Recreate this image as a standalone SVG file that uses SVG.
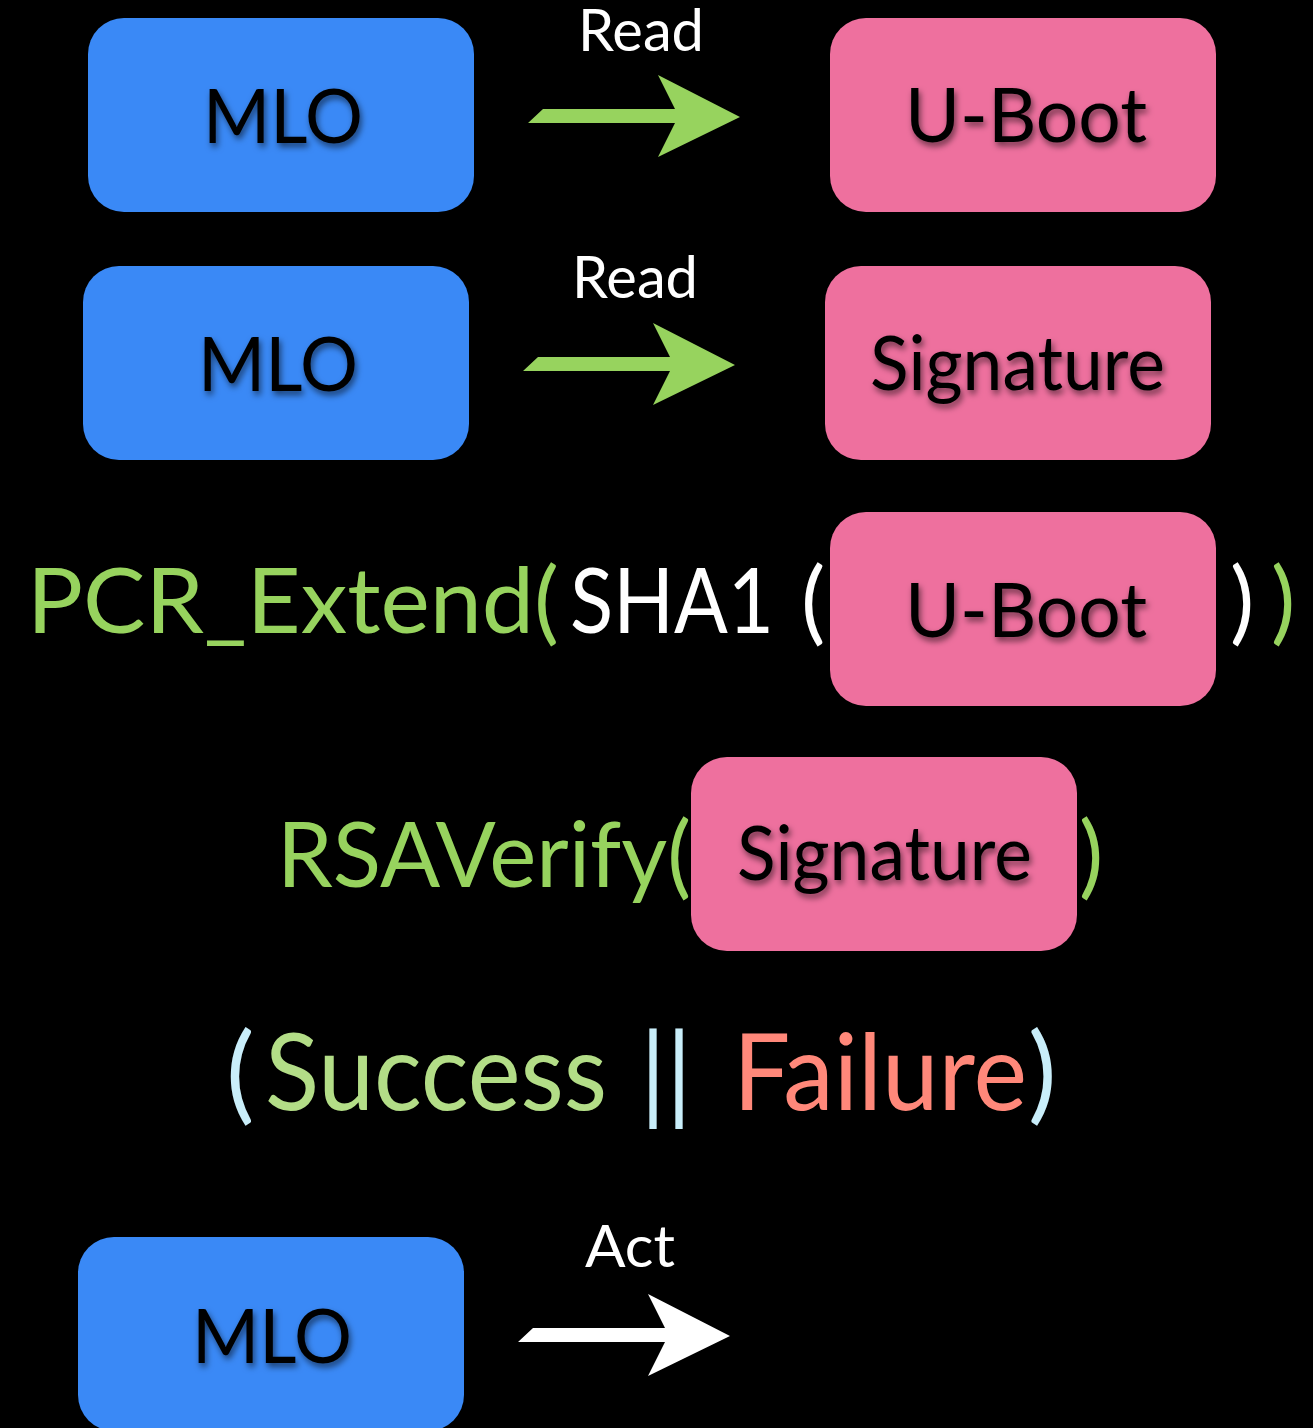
<svg xmlns="http://www.w3.org/2000/svg" width="1313" height="1428" viewBox="0 0 1313 1428">
<defs>
<style>
.box-blue{fill:#3A89F6}
.box-pink{fill:#EE709E}
.lbl{font-family:Lato,"Open Sans","Liberation Sans",sans-serif;font-size:76px;fill:#000;filter:url(#sh)}
.cap{font-family:Lato,"Open Sans","Liberation Sans",sans-serif;font-size:59px;fill:#fff}
.eq{font-family:Lato,"Open Sans","Liberation Sans",sans-serif;font-size:91px}
.big{font-family:Lato,"Open Sans","Liberation Sans",sans-serif;font-size:107px}
.green{fill:#97D35E}
.white{fill:#fff}
</style>
<filter id="sh" x="-20%" y="-30%" width="140%" height="160%">
<feDropShadow dx="2" dy="4" stdDeviation="3" flood-color="#000" flood-opacity="0.55"/>
</filter>
</defs>
<rect width="1313" height="1428" fill="#000"/>

<g id="connectors">
<polygon points="528,123 543,109 675,109 658,75 740,117 658,157 675,123" fill="#97D35E"/>
<polygon points="523,371 538,357 670,357 653,323 735,365 653,405 670,371" fill="#97D35E"/>
<polygon points="518,1342 533,1328 665,1328 648,1294 730,1336 648,1376 665,1342" fill="#fff"/>
<text class="cap" x="578" y="51" textLength="126" lengthAdjust="spacingAndGlyphs">Read</text>
<text class="cap" x="572" y="298" textLength="126" lengthAdjust="spacingAndGlyphs">Read</text>
<text class="cap" x="585" y="1267" textLength="90" lengthAdjust="spacingAndGlyphs">Act</text>
</g>

<g id="mlo1">
<rect class="box-blue" x="88" y="18" width="386" height="194" rx="36"/>
<text class="lbl" x="203" y="143" textLength="160" lengthAdjust="spacingAndGlyphs">MLO</text>
</g>
<g id="uboot1">
<rect class="box-pink" x="830" y="18" width="386" height="194" rx="36"/>
<text class="lbl" x="905" y="142" textLength="242" lengthAdjust="spacingAndGlyphs">U-Boot</text>
</g>
<g id="mlo2">
<rect class="box-blue" x="83" y="266" width="386" height="194" rx="36"/>
<text class="lbl" x="198" y="391" textLength="160" lengthAdjust="spacingAndGlyphs">MLO</text>
</g>
<g id="signature1">
<rect class="box-pink" x="825" y="266" width="386" height="194" rx="36"/>
<text class="lbl" x="870" y="390" textLength="295" lengthAdjust="spacingAndGlyphs">Signature</text>
</g>

<g id="pcr-extend">
<text class="eq green" x="27" y="633" textLength="532" lengthAdjust="spacingAndGlyphs">PCR_Extend(</text>
<text class="eq white" x="570" y="633" textLength="204" lengthAdjust="spacingAndGlyphs">SHA1</text>
<text class="eq white" x="801" y="633">(</text>
<text class="eq white" x="1230" y="633">)</text>
<text class="eq green" x="1271" y="633">)</text>
</g>
<g id="uboot2">
<rect class="box-pink" x="830" y="512" width="386" height="194" rx="36"/>
<text class="lbl" x="905" y="637" textLength="242" lengthAdjust="spacingAndGlyphs">U-Boot</text>
</g>

<g id="rsaverify">
<text class="eq green" x="277" y="887" textLength="414" lengthAdjust="spacingAndGlyphs">RSAVerify(</text>
<text class="eq green" x="1079" y="887">)</text>
</g>
<g id="signature2">
<rect class="box-pink" x="691" y="757" width="386" height="194" rx="36"/>
<text class="lbl" x="737" y="880" textLength="295" lengthAdjust="spacingAndGlyphs">Signature</text>
</g>

<g id="result">
<text class="big" x="226" y="1110" fill="#C9EEFA">(</text>
<text class="big" x="265" y="1110" fill="#B3DD87" textLength="342" lengthAdjust="spacingAndGlyphs">Success</text>
<text class="big" x="640" y="1110" fill="#C9EEFA" textLength="52" lengthAdjust="spacingAndGlyphs">||</text>
<text class="big" x="733" y="1110" fill="#FF887A" textLength="294" lengthAdjust="spacingAndGlyphs">Failure</text>
<text class="big" x="1028" y="1110" fill="#C9EEFA">)</text>
</g>

<g id="mlo3">
<rect class="box-blue" x="78" y="1237" width="386" height="194" rx="36"/>
<text class="lbl" x="192" y="1363" textLength="160" lengthAdjust="spacingAndGlyphs">MLO</text>
</g>
</svg>
